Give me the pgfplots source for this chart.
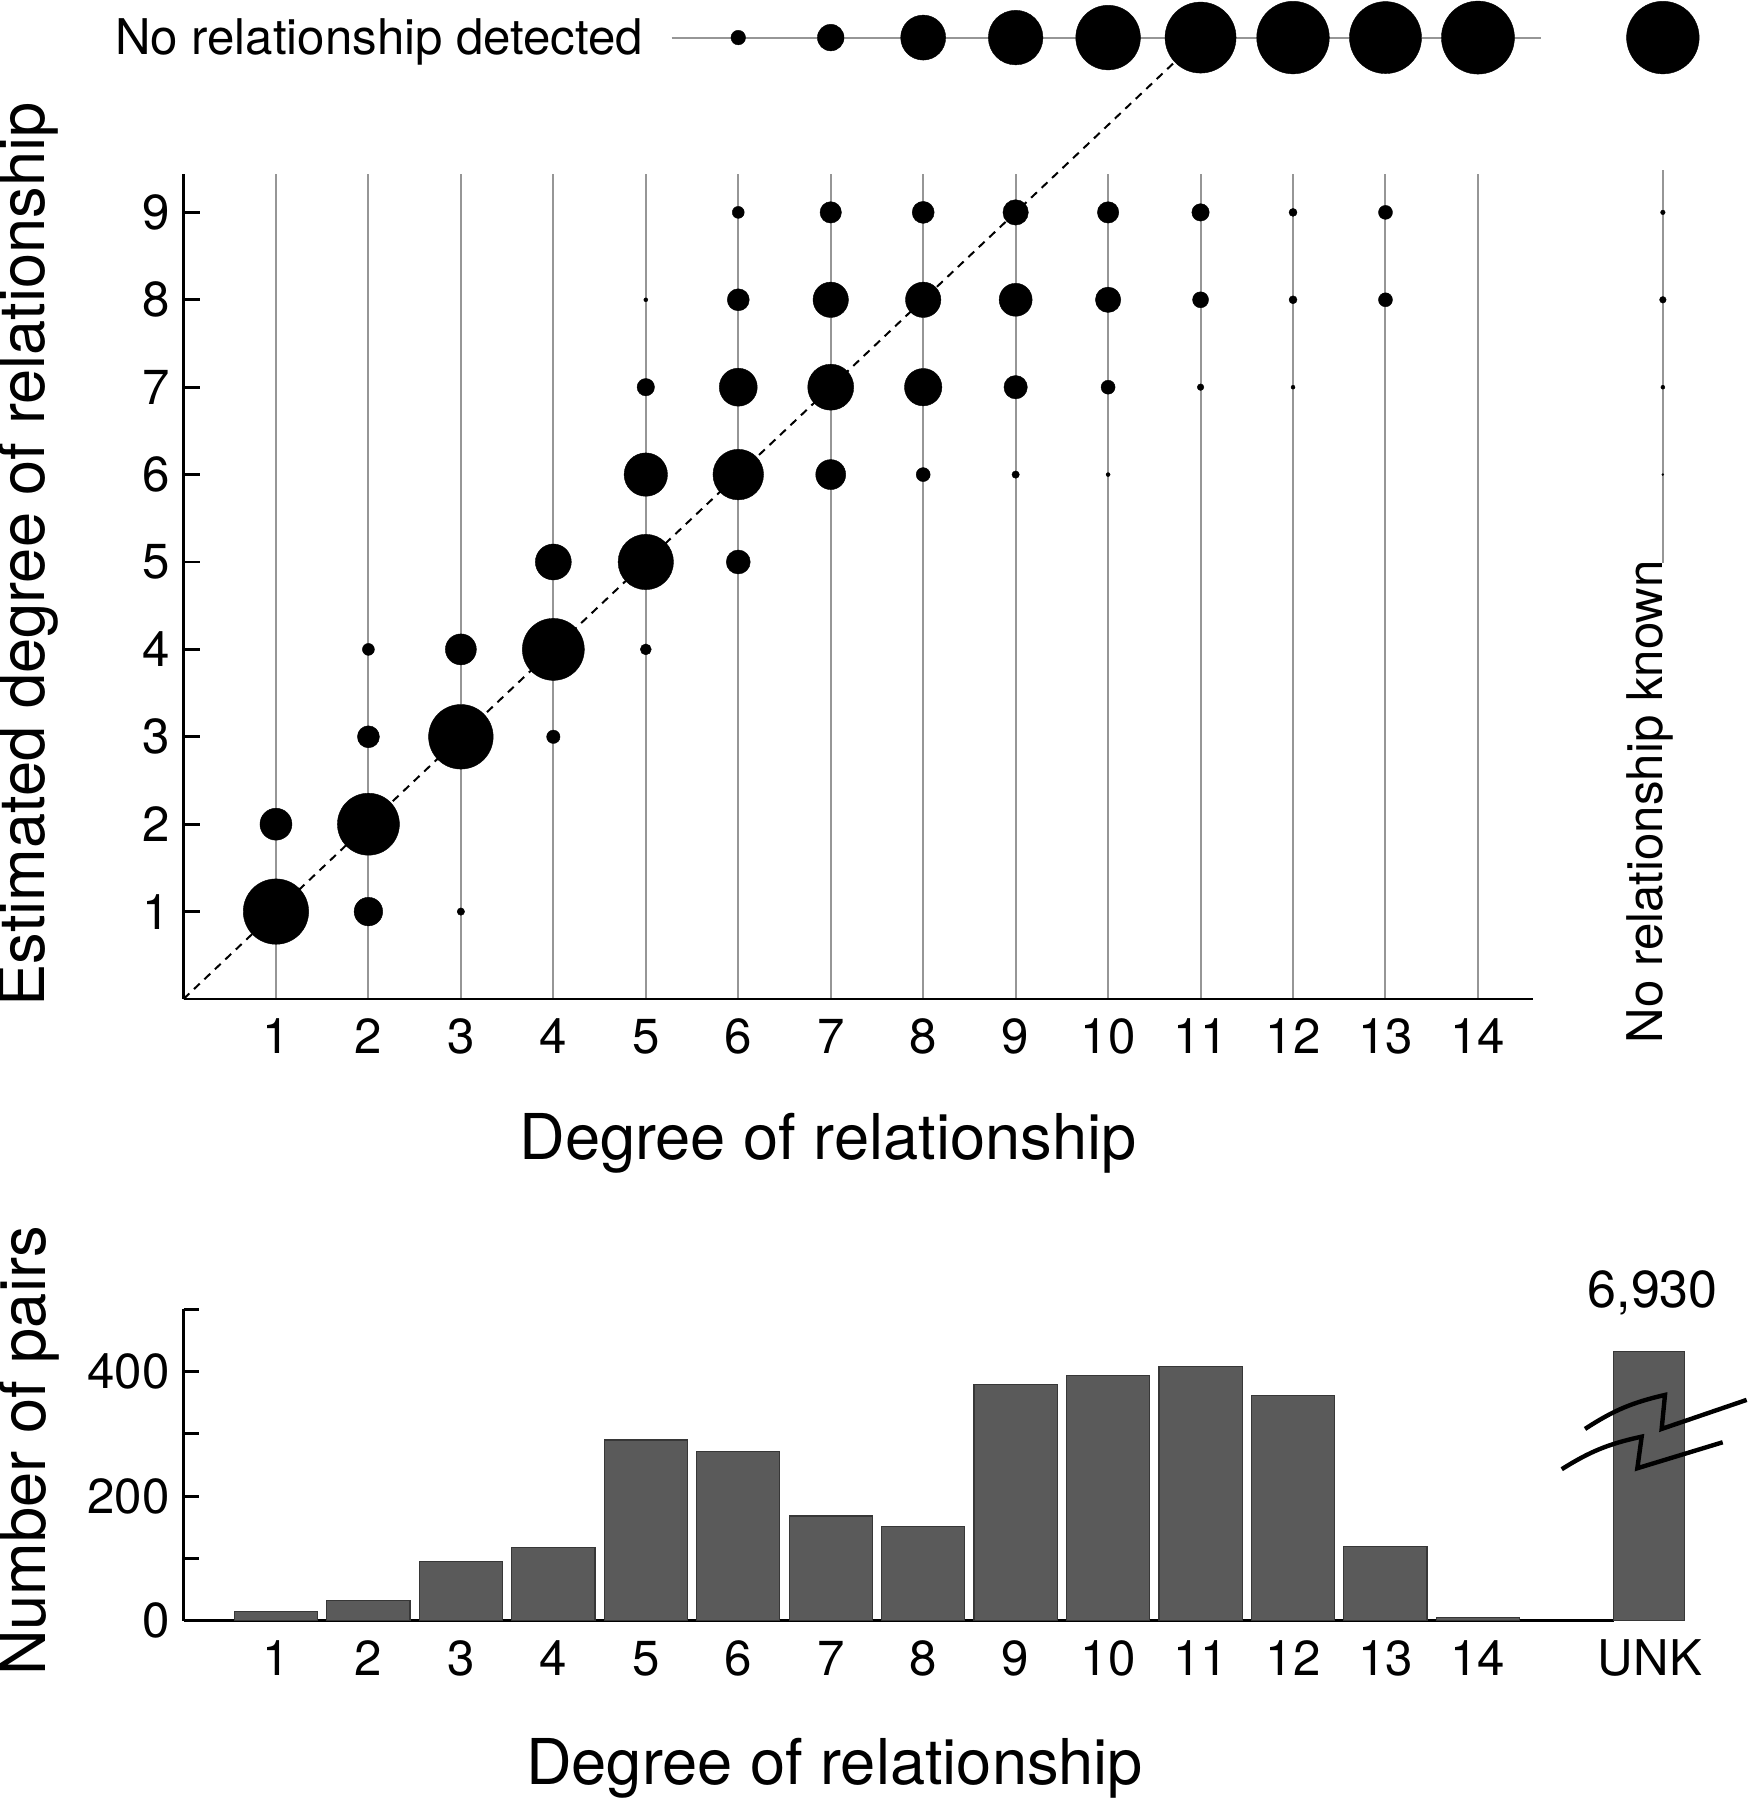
\documentclass[border=0pt]{standalone}
\usepackage{fontspec}
\setmainfont{TeX Gyre Heros}
\usepackage{pgfplots}
\pgfplotsset{compat=1.18}
\usepackage{pgfplotstable}
\definecolor{gridgray}{RGB}{150,150,150}
\definecolor{barfill}{RGB}{90,90,90}
\definecolor{baredge}{RGB}{55,55,55}
\newcommand{\tickfont}{\fontsize{12.3}{14.8}\selectfont}
\newcommand{\labfont}{\fontsize{15.8}{19}\selectfont}

% x = degree of relationship, y = estimated degree (11 = no relationship detected), r = dot radius (px)
\pgfplotstableread{
x y r
1 1 32.7
1 2 16
2 1 14.3
2 2 31
2 3 11
2 4 6
3 1 3.7
3 3 32.3
3 4 15.5
4 3 6.7
4 4 31
4 5 18
5 4 5.5
5 5 27.7
5 6 21.7
5 7 8.7
5 8 2
6 5 12
6 6 25.3
6 7 19
6 8 11
6 9 6
7 6 15
7 7 23
7 8 17.7
7 9 10.7
8 6 7
8 7 18.7
8 8 17.7
8 9 11
9 6 3.7
9 7 11.7
9 8 16.5
9 9 12.7
10 6 2
10 7 7
10 8 12.7
10 9 10.7
11 7 3.3
11 8 8
11 9 8.7
12 7 2
12 8 4
12 9 4
13 8 7
13 9 7
16 6 1
16 7 2
16 8 3.3
16 9 2.3
6 11 7.3
7 11 13.3
8 11 22.5
9 11 27.3
10 11 32.3
11 11 35.5
12 11 36.3
13 11 36
14 11 36.5
16 11 36.3
}\bubbles

\pgfplotstableread{
x n
1 15
2 32
3 95
4 117
5 290
6 271
7 168
8 151
9 379
10 393
11 408
12 361
13 119
14 5.5
}\pairs

\begin{document}
\begin{tikzpicture}
% ---------------- top panel ----------------
\begin{axis}[
  at={(45.875pt,200.25pt)}, anchor=south west,
  x=23.115pt, y=21.85pt,
  xmin=0, xmax=14.59, ymin=0, ymax=9.44,
  axis lines*=left, clip=false,
  axis line style={black, line width=0.7pt},
  xtick={1,...,14}, ytick={1,...,9},
  xmajorgrids, major x grid style={gridgray, line width=0.5pt},
  tick align=inside, major tick length=4.2pt,
  xtick style={draw=none},
  ytick style={black, line width=0.7pt},
  tick label style={font=\tickfont},
  /pgf/number format/assume math mode=true,
  xticklabel style={anchor=base, yshift=-13.75pt},
  label style={font=\labfont},
  xlabel={Degree of relationship},
  ylabel={Estimated degree of relationship},
  xlabel style={at={(axis description cs:0.4777,-0.1745)}, anchor=center},
  ylabel style={at={(axis description cs:-0.1150,0.539)}, anchor=center},
]
\addplot[gridgray, line width=0.5pt] coordinates {(16,4.99) (16,9.49)};
\addplot[gridgray, line width=0.5pt] coordinates {(5.28,11) (14.68,11)};
\addplot[black, line width=0.5pt, dash pattern=on 2pt off 1.6pt] coordinates {(0,0) (11,11)};
\addplot[scatter, only marks, mark=*,
  scatter/use mapped color={draw=black, fill=black},
  mark options={line width=0.1pt},
  visualization depends on={\thisrow{r} \as \rr},
  scatter/@pre marker code/.append style={/tikz/mark size=0.25pt*\rr}]
  table[x=x, y=y] {\bubbles};
\node[font=\tickfont, inner sep=0pt, anchor=base east] at (axis cs:4.98,10.81) {No relationship detected};
\node[font=\tickfont, inner sep=0pt, rotate=90, anchor=base west] at (axis cs:16,-0.515) {No relationship known};
\end{axis}
% ---------------- bottom panel ----------------
\begin{axis}[
  at={(45.875pt,44.825pt)}, anchor=south west,
  x=23.115pt, y=0.15575pt,
  xmin=0, xmax=15.47, ymin=0, ymax=500,
  axis lines*=left, clip=false,
  axis line style={black, line width=0.7pt},
  xtick={1,...,14}, ytick={0,200,400}, minor ytick={100,300,500},
  tick align=inside, major tick length=3.8pt, minor tick length=3.8pt,
  xtick style={draw=none},
  ytick style={black, line width=0.7pt},
  minor tick style={black, line width=0.7pt},
  tick label style={font=\tickfont},
  /pgf/number format/assume math mode=true,
  xticklabel style={anchor=base, yshift=-13.75pt},
  label style={font=\labfont},
  xlabel={Degree of relationship},
  ylabel={Number of pairs},
  xlabel style={at={(axis description cs:0.4552,-0.473)}, anchor=center},
  ylabel style={at={(axis description cs:-0.1075,0.545)}, anchor=center},
]
\addplot[ybar, bar width=0.9, bar shift=0pt, fill=barfill, draw=baredge, line width=0.3pt]
  table[x=x, y=n] {\pairs};
\addplot[ybar, bar width=0.77, bar shift=0pt, fill=barfill, draw=baredge, line width=0.3pt]
  coordinates {(15.85,432)};
\node[font=\tickfont, anchor=base, yshift=-13.75pt] at (axis cs:15.86,0) {UNK};
\node[font=\fontsize{13}{15}\selectfont, anchor=base] at (axis cs:15.89,502) {6,930};
\draw[line width=1.1pt] (axis cs:15.158,307.8) to[bend left=10] (axis cs:16.023,362.4)
   -- (axis cs:15.987,307.8) -- (axis cs:16.906,354.4);
\draw[line width=1.1pt] (axis cs:14.906,243.1) to[bend left=10] (axis cs:15.771,295.4)
   -- (axis cs:15.724,244.7) -- (axis cs:16.647,286.4);
\end{axis}
\pgfresetboundingbox
\path (0,0) rectangle (437pt,450pt);
\end{tikzpicture}
\end{document}
